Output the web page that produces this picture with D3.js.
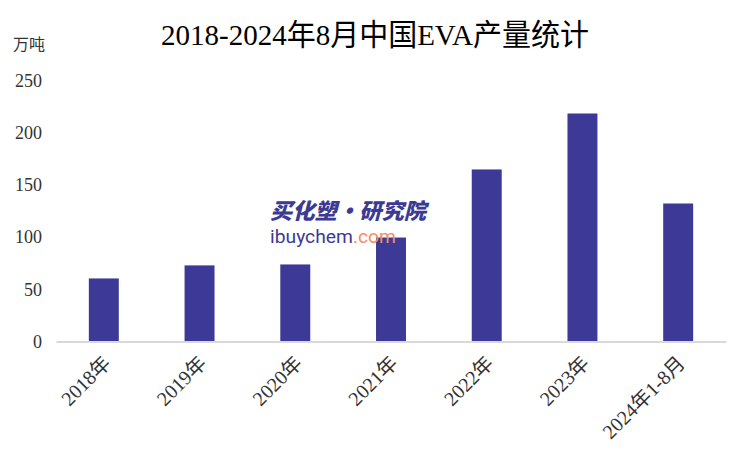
<!DOCTYPE html>
<html><head><meta charset="utf-8">
<script src="https://cdn.jsdelivr.net/npm/d3@7"></script>
<style>body{margin:0;background:#fff}svg{display:block}</style>
</head><body>
<script>
const categories = ["2018年","2019年","2020年","2021年","2022年","2023年","2024年1-8月"];
const values = [60.4, 72.9, 73.8, 99.6, 164.8, 218.4, 132.2];
const yTicks = [0, 50, 100, 150, 200, 250];
const titleText = "2018-2024年8月中国EVA产量统计";
const unitText = "万吨";

const W = 750, H = 450;
const serif = "'Liberation Serif','DejaVu Serif','Noto Sans CJK SC',serif";
const svg = d3.select("body").append("svg").attr("width", W).attr("height", H);

const x = d3.scaleBand().domain(categories).range([56, 726]).paddingInner(0.687).paddingOuter(0.343);
const y = d3.scaleLinear().domain([0, 250]).range([341.5, 80.5]);

// title
svg.append("text").attr("x", 375).attr("y", 45).attr("text-anchor", "middle")
  .style("font-family", serif).attr("font-size", 30).attr("fill", "#000")
  .attr("textLength", 428).attr("lengthAdjust", "spacingAndGlyphs")
  .text(titleText);
svg.append("text").attr("x", 13).attr("y", 50).style("font-family", serif)
  .attr("font-size", 16).attr("fill", "#333").text(unitText);

// y axis labels
const yAxis = d3.axisLeft(y).tickValues(yTicks).tickSize(0).tickPadding(0);
const gy = svg.append("g").attr("transform", "translate(42,0)").call(yAxis);
gy.select(".domain").remove();
gy.selectAll("text").style("font-family", serif).attr("font-size", 18).attr("fill", "#333");

// bars
svg.append("g").selectAll("rect").data(values).join("rect")
  .attr("x", (d, i) => x(categories[i])).attr("width", x.bandwidth())
  .attr("y", d => y(d)).attr("height", d => y(0) - y(d)).attr("fill", "#3c3a96");

// x axis
const xAxis = d3.axisBottom(x).tickSize(0).tickPadding(0);
const gx = svg.append("g").attr("transform", `translate(0,${y(0)})`).call(xAxis);
gx.select(".domain").attr("stroke", "#d9d9d9").attr("stroke-width", 2);
gx.selectAll("text").style("font-family", serif).attr("font-size", 20).attr("fill", "#333")
  .attr("text-anchor", "end").attr("dy", 0)
  .attr("transform", "translate(8,23) rotate(-45)");

// watermark
const wm = svg.append("g");
wm.append("text").attr("x", 270).attr("y", 219).style("font-family", "'Noto Sans CJK SC',sans-serif")
  .attr("font-weight", 900).attr("font-style", "italic").attr("font-size", 22).attr("fill", "#3d3a94")
  .attr("textLength", 156).attr("lengthAdjust", "spacingAndGlyphs").text("买化塑·研究院");
const t2 = wm.append("text").attr("x", 270).attr("y", 243).style("font-family", "Roboto,'Noto Sans',sans-serif")
  .attr("font-size", 18).attr("textLength", 126).attr("lengthAdjust", "spacingAndGlyphs");
t2.append("tspan").attr("fill", "#3d3a94").text("ibuychem");
t2.append("tspan").attr("fill", "#f58d63").text(".com");
</script>
</body></html>
